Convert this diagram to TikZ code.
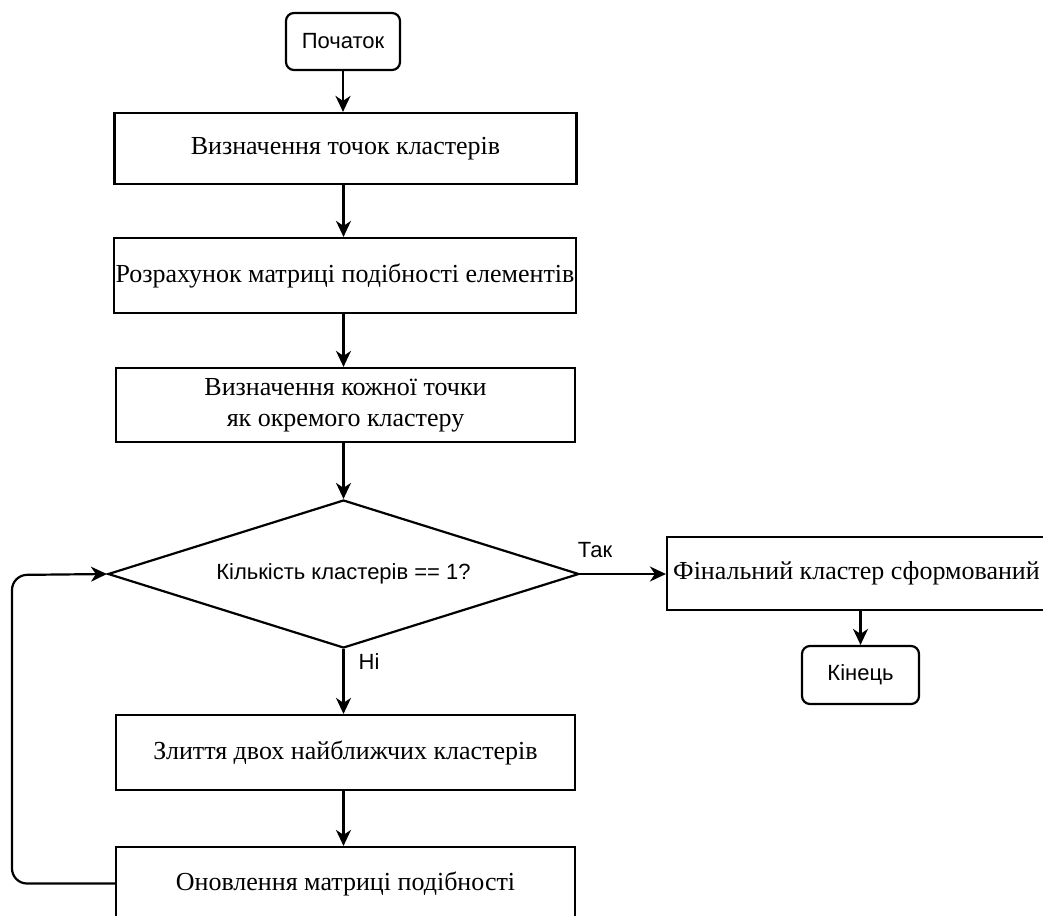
\documentclass[tikz,border=0pt]{standalone}
\usepackage{fontspec}
\setmainfont{Liberation Serif}
\newfontfamily\arialf{Liberation Sans}
\usetikzlibrary{shapes.geometric,arrows.meta}
\begin{document}
\begin{tikzpicture}[x=1pt,y=-1pt,
  line width=2.2pt,
  box/.style={draw, rectangle, line width=2.2pt, inner sep=0pt, align=center, font=\fontsize{26}{31}\selectfont},
  term/.style={draw, rectangle, line width=2.2pt, rounded corners=8pt, inner sep=0pt, font=\arialf\fontsize{22}{26}\selectfont},
  dec/.style={draw, diamond, line width=2.2pt, aspect=3.18, inner sep=0pt, font=\arialf\fontsize{22}{26}\selectfont},
  lbl/.style={inner sep=0pt, font=\arialf\fontsize{22}{26}\selectfont},
  arr/.style={line width=2.2pt, -{Stealth[length=16pt,width=15pt,inset=5pt]}}]
\useasboundingbox[fill=white] (0,0) rectangle (1043,915);
\node[term, minimum width=114pt, minimum height=57pt] (start) at (343,41.5) {Початок};
\node[box, minimum width=462pt, minimum height=71pt] (b1) at (345.5,148.5) {Визначення точок кластерів};
\node[box, minimum width=462pt, minimum height=75pt] (b2) at (345,275.5) {Розрахунок матриці подібності елементів};
\node[box, minimum width=459pt, minimum height=74pt] (b3) at (345.5,405) {Визначення кожної точки\\як окремого кластеру};
\node[dec, minimum width=471pt, minimum height=148pt] (d) at (343.5,574) {Кількість кластерів == 1?};
\node[box, minimum width=379pt, minimum height=73pt] (fin) at (856.5,573.5) {Фінальний кластер сформований};
\node[term, minimum width=117pt, minimum height=58pt] (end) at (860.5,675) {Кінець};
\node[box, minimum width=459pt, minimum height=75pt] (b4) at (345.5,752.5) {Злиття двох найближчих кластерів};
\node[box, minimum width=459pt, minimum height=73pt] (b5) at (345.5,883.5) {Оновлення матриці подібності};
\node[lbl] (yes) at (595,550) {Так};
\node[lbl] (no) at (369,662) {Ні};
\coordinate (c1) at (12,883.5);
\coordinate (c2) at (12,575);
\draw[arr] (start.south) -- (start.south |- b1.north);
\draw[arr] (b1.south -| d.north) -- (b2.north -| d.north);
\draw[arr] (b2.south -| d.north) -- (b3.north -| d.north);
\draw[arr] (b3.south -| d.north) -- (d.north);
\draw[arr] (d.east) -- (fin.west |- d.east);
\draw[arr] (fin.south -| end) -- (end);
\draw[arr] (d.south) -- (b4.north -| d.south);
\draw[arr] (b4.south -| d.south) -- (b5.north -| d.south);
\draw[arr, rounded corners=15pt] (b5.west) -- (c1) -- (c2) -- (d.west);
\end{tikzpicture}
\end{document}
